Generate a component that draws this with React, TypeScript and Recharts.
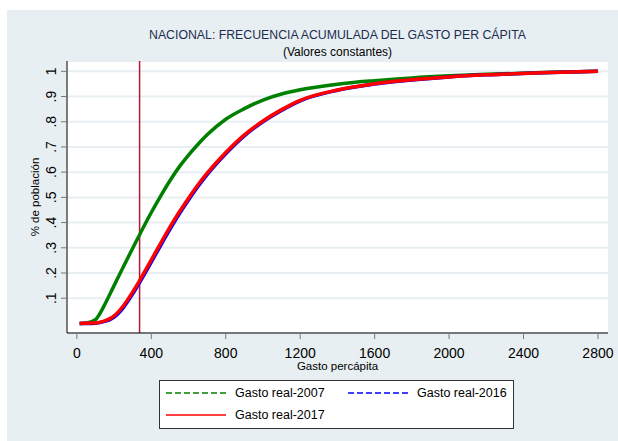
import React from "react";
import { LineChart, Line, XAxis, YAxis, CartesianGrid, ReferenceLine } from "recharts";

// Frecuencia acumulada del gasto per cápita
const gasto = [15, 60, 100, 130, 150, 180, 200, 250, 300, 337, 400, 450, 500, 550, 600, 650, 700, 800, 900, 1000, 1100, 1200, 1400, 1600, 1800, 2000, 2200, 2500, 2800];
const real2007 = [0, 0.003, 0.015, 0.047, 0.075, 0.12, 0.15, 0.225, 0.298, 0.352, 0.44, 0.505, 0.566, 0.621, 0.668, 0.71, 0.748, 0.81, 0.852, 0.886, 0.91, 0.927, 0.949, 0.963, 0.974, 0.982, 0.988, 0.995, 1.0];
const real2016 = [0, 0, 0.001, 0.004, 0.008, 0.016, 0.025, 0.063, 0.117, 0.162, 0.243, 0.309, 0.373, 0.434, 0.49, 0.542, 0.59, 0.673, 0.744, 0.8, 0.845, 0.883, 0.925, 0.95, 0.966, 0.978, 0.986, 0.994, 1.0];
const real2017 = [0, 0.001, 0.002, 0.006, 0.01, 0.02, 0.03, 0.07, 0.125, 0.17, 0.252, 0.318, 0.382, 0.442, 0.497, 0.549, 0.596, 0.678, 0.748, 0.803, 0.848, 0.885, 0.926, 0.951, 0.967, 0.978, 0.986, 0.994, 1.0];

const xTicks = [0, 400, 800, 1200, 1600, 2000, 2400, 2800];
const yTicks = [0.1, 0.2, 0.3, 0.4, 0.5, 0.6, 0.7, 0.8, 0.9, 1];
const lineaPobreza = 337;

const rows = gasto.map((g, i) => ({
  gasto: g,
  r2007: real2007[i],
  r2016: real2016[i],
  r2017: real2017[i],
}));

const FONT = "'Liberation Sans', Arial, sans-serif";
const BG = "#e8eff2";

const fmtY = (v: number) => (v === 1 ? "1" : v.toFixed(1).replace(/^0/, ""));

function YTick(props: any) {
  const { y, payload } = props;
  const bx = 49;
  return (
    <text
      x={bx}
      y={y}
      transform={`rotate(-90, ${bx}, ${y})`}
      textAnchor="middle"
      fontSize={14}
      fontFamily={FONT}
      fill="#000"
    >
      {fmtY(payload.value)}
    </text>
  );
}

function XTick(props: any) {
  const { x, y, payload } = props;
  return (
    <text x={x} y={y + 17} textAnchor="middle" fontSize={14} fontFamily={FONT} fill="#000">
      {payload.value}
    </text>
  );
}

function LegendItem({ color, dash, label }: { color: string; dash?: string; label: string }) {
  return (
    <div style={{ display: "flex", alignItems: "center", height: 22 }}>
      <svg width={60} height={6} style={{ marginLeft: 6, marginRight: 9 }}>
        <line x1={0} y1={3} x2={60} y2={3} stroke={color} strokeWidth={1.5} strokeDasharray={dash} />
      </svg>
      <span style={{ fontSize: 12.5, fontFamily: FONT, color: "#000" }}>{label}</span>
    </div>
  );
}

export default function App() {
  return (
    <div style={{ position: "absolute", left: 0, top: 0, width: 618, height: 441, background: "#fff" }}>
      <div style={{ position: "absolute", left: 7, top: 10, width: 611, height: 431, background: BG }}>
        <div
          style={{
            position: "absolute",
            left: 0,
            width: 661,
            top: 18,
            textAlign: "center",
            fontFamily: FONT,
            fontSize: 12.3,
            color: "#1c2d4f",
            whiteSpace: "nowrap",
          }}
        >
          NACIONAL: FRECUENCIA ACUMULADA DEL GASTO PER CÁPITA
        </div>
        <div
          style={{
            position: "absolute",
            left: 0,
            width: 661,
            top: 35,
            textAlign: "center",
            fontFamily: FONT,
            fontSize: 12,
            color: "#000",
            whiteSpace: "nowrap",
          }}
        >
          (Valores constantes)
        </div>
        <LineChart width={611} height={431} data={rows} margin={{ top: 51, right: 10, left: 0, bottom: 0 }}>
          <CartesianGrid fill="#fff" vertical={false} stroke={BG} strokeWidth={2} />
          <XAxis
            dataKey="gasto"
            type="number"
            domain={[-53, 2854]}
            ticks={xTicks}
            height={108}
            tick={<XTick />}
            tickSize={6}
            stroke="#000"
            tickLine={{ stroke: "#777" }}
            allowDataOverflow
            label={(p: any) => {
              const vb = p.viewBox;
              return (
                <text x={vb.x + vb.width / 2} y={vb.y + 37} textAnchor="middle" fontSize={11.5} fontFamily={FONT} fill="#000">
                  Gasto percápita
                </text>
              );
            }}
          />
          <YAxis
            type="number"
            domain={[-0.038, 1.041]}
            ticks={yTicks}
            width={60}
            tick={<YTick />}
            tickSize={6}
            stroke="#000"
            tickLine={{ stroke: "#777" }}
            allowDataOverflow
            label={(p: any) => {
              const vb = p.viewBox;
              const cx = 32;
              const cy = vb.y + vb.height / 2;
              return (
                <text x={cx} y={cy} transform={`rotate(-90, ${cx}, ${cy})`} textAnchor="middle" fontSize={11.5} fontFamily={FONT} fill="#000">
                  % de población
                </text>
              );
            }}
          />
          <ReferenceLine x={lineaPobreza} stroke="#b5173c" strokeWidth={1.5} />
          <Line type="monotone" dataKey="r2007" stroke="#008000" strokeWidth={3.5} dot={false} isAnimationActive={false} />
          <Line type="monotone" dataKey="r2016" stroke="#0000ff" strokeWidth={3.5} dot={false} isAnimationActive={false} />
          <Line type="monotone" dataKey="r2017" stroke="#ff0000" strokeWidth={3.5} dot={false} isAnimationActive={false} />
        </LineChart>
        <div
          style={{
            position: "absolute",
            left: 152,
            top: 370,
            width: 355,
            height: 49,
            background: "#fff",
            border: "1px solid #333",
            boxSizing: "border-box",
            paddingTop: 1,
          }}
        >
          <div style={{ display: "flex" }}>
            <div style={{ width: 182 }}>
              <LegendItem color="#008000" dash="6 3" label="Gasto real-2007" />
            </div>
            <LegendItem color="#0000ff" dash="6 3" label="Gasto real-2016" />
          </div>
          <LegendItem color="#ff0000" label="Gasto real-2017" />
        </div>
      </div>
    </div>
  );
}
